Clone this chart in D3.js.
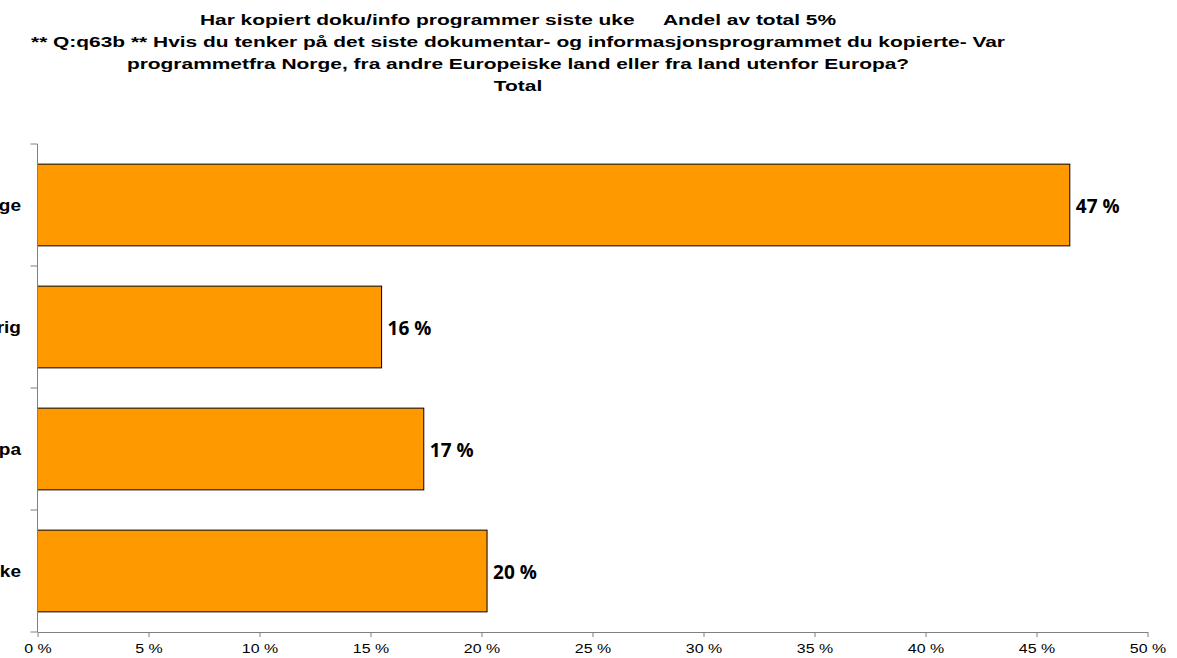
<!DOCTYPE html>
<html>
<head>
<meta charset="utf-8">
<script src="https://cdn.jsdelivr.net/npm/d3@7"></script>
<style>
  body { margin: 0; background: #fff; }
  svg { display: block; }
  .title { font-family: "Liberation Sans", Arial, sans-serif; font-weight: bold; font-size: 15.5px; fill: #000; }
  .tick text { font-family: "Liberation Sans", Arial, sans-serif; font-size: 13.5px; fill: #000; }
  .cat { font-family: "Liberation Sans", Arial, sans-serif; font-weight: bold; font-size: 17px; fill: #000; }
  .val { font-family: "Open Sans", "DejaVu Sans", sans-serif; font-weight: bold; font-size: 19px; fill: #000; }
</style>
</head>
<body>
<svg width="1177" height="658"></svg>
<script>
const titleLines = [
  'Har kopiert doku/info programmer siste uke     Andel av total 5%',
  '** Q:q63b ** Hvis du tenker på det siste dokumentar- og informasjonsprogrammet du kopierte- Var',
  'programmetfra Norge, fra andre Europeiske land eller fra land utenfor Europa?',
  'Total'
];
const categories = ['Norge', 'Europa øvrig', 'Utenfor Europa', 'Vet ikke'];
const values = [46.5, 15.5, 17.4, 20.25];
const valueLabels = ['47 %', '16 %', '17 %', '20 %'];
const xTicks = [0, 5, 10, 15, 20, 25, 30, 35, 40, 45, 50];

const plotLeft = 37.5, plotRight = 1147.5, plotTop = 144, plotBottom = 632;
const svg = d3.select('svg');

// title, stretched sideways like the original
svg.selectAll('.title')
  .data(titleLines)
  .enter()
  .append('text')
  .attr('class', 'title')
  .attr('transform', (d, i) => `translate(518, ${25 + i * 22}) scale(1.35, 1)`)
  .attr('text-anchor', 'middle')
  .style('white-space', 'pre')
  .text(d => d);

const xScale = d3.scaleLinear().domain([0, 50]).range([plotLeft, plotRight]);
const yScale = d3.scaleBand().domain(categories).range([plotTop, plotBottom]).paddingInner(0.33).paddingOuter(0.165);
const yBand = d3.scaleBand().domain(categories).range([plotTop, plotBottom]);

// bars
svg.selectAll('.bar')
  .data(categories)
  .enter()
  .append('rect')
  .attr('class', 'bar')
  .attr('x', xScale(0))
  .attr('y', d => yScale(d))
  .attr('width', (d, i) => xScale(values[i]) - xScale(0))
  .attr('height', yScale.bandwidth())
  .attr('fill', '#FF9900')
  .attr('stroke', '#000')
  .attr('stroke-width', 1);

// value labels
svg.selectAll('.val')
  .data(categories)
  .enter()
  .append('text')
  .attr('class', 'val')
  .attr('x', (d, i) => xScale(values[i]) + 6)
  .attr('y', d => yScale(d) + yScale.bandwidth() / 2 + 8)
  .text((d, i) => valueLabels[i]);

// y axis (tick marks between categories)
const yAxis = svg.append('g');
yAxis.append('line')
  .attr('x1', plotLeft).attr('x2', plotLeft)
  .attr('y1', plotTop).attr('y2', plotBottom)
  .attr('stroke', '#808080');
yAxis.selectAll('.ytick')
  .data(categories.concat(['end']))
  .enter()
  .append('line')
  .attr('x1', plotLeft - 7).attr('x2', plotLeft)
  .attr('y1', (d, i) => plotTop + i * yBand.bandwidth())
  .attr('y2', (d, i) => plotTop + i * yBand.bandwidth())
  .attr('stroke', '#808080');

svg.selectAll('.cat')
  .data(categories)
  .enter()
  .append('text')
  .attr('class', 'cat')
  .attr('transform', d => `translate(21, ${yBand(d) + yBand.bandwidth() / 2 + 6}) scale(1.12, 1)`)
  .attr('text-anchor', 'end')
  .text(d => d);

// x axis
const xAxis = svg.append('g')
  .attr('transform', `translate(0, ${plotBottom})`)
  .call(d3.axisBottom(xScale).tickValues(xTicks).tickSize(5).tickSizeOuter(0).tickPadding(6).tickFormat(d => d + ' %'));
xAxis.select('.domain').attr('stroke', '#808080');
xAxis.selectAll('.tick line').attr('stroke', '#808080');
xAxis.selectAll('.tick text').attr('transform', 'scale(1.18, 1)');
</script>
</body>
</html>
